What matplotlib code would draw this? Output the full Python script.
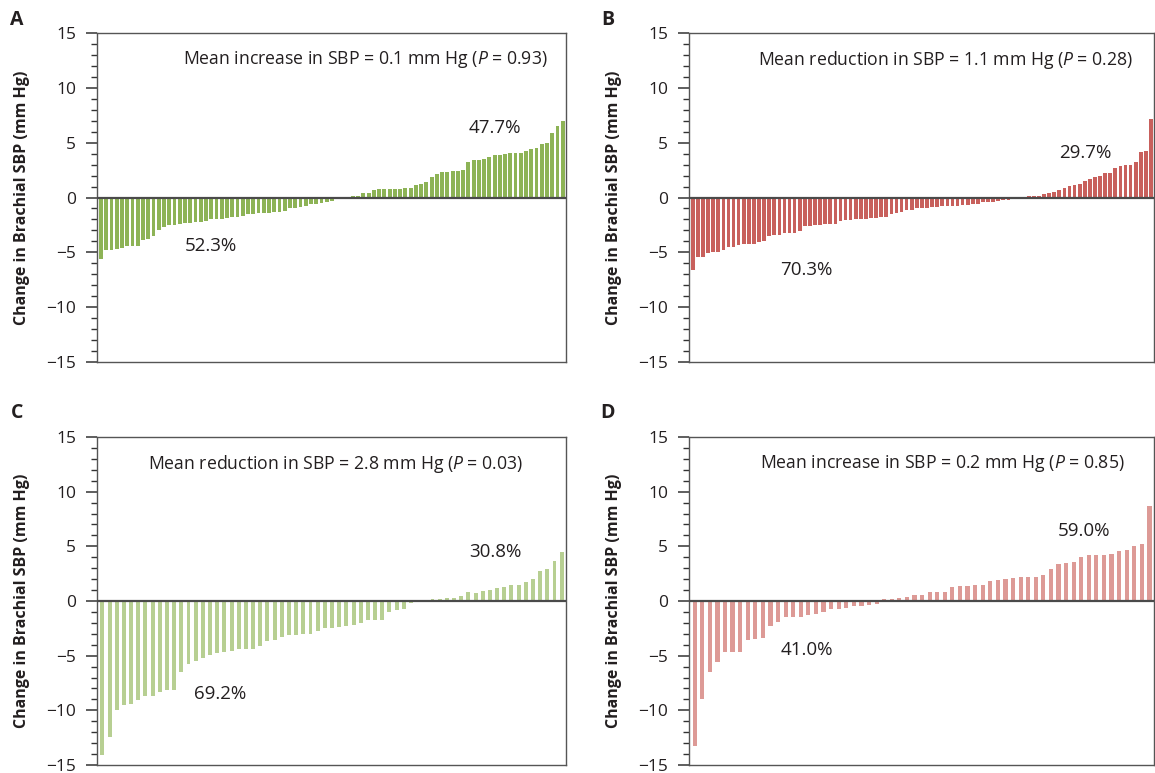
"""
Waterfall plots of change in brachial SBP, four panels (A-D).
"""

import matplotlib
matplotlib.use("Agg")
import matplotlib.pyplot as plt
from matplotlib.ticker import MultipleLocator

plt.rcParams["font.family"] = ["Open Sans", "DejaVu Sans"]
plt.rcParams["mathtext.fontset"] = "custom"
plt.rcParams["mathtext.rm"] = "Open Sans"
plt.rcParams["mathtext.it"] = "Open Sans:italic"

# --- data (mm Hg, sorted per panel) ---
a_values = [-5.6, -4.8, -4.8, -4.7, -4.6, -4.4, -4.4, -4.4, -3.9, -3.8, -3.5, -3.0,
            -2.7, -2.5, -2.5, -2.4, -2.3, -2.3, -2.2, -2.2, -2.1, -2.0, -1.95, -1.95,
            -1.85, -1.8, -1.8, -1.7, -1.5, -1.5, -1.4, -1.4, -1.4, -1.3, -1.3, -1.2,
            -0.95, -0.95, -0.85, -0.75, -0.6, -0.6, -0.5, -0.4, -0.35, -0.1,
            0.0, 0.0,
            0.15, 0.15, 0.4, 0.4, 0.65, 0.75, 0.75, 0.75, 0.8, 0.8, 0.9, 0.9, 1.1,
            1.2, 1.4, 1.9, 2.1, 2.3, 2.3, 2.4, 2.45, 2.55, 3.2, 3.4, 3.4, 3.5, 3.65,
            3.85, 3.85, 4.0, 4.1, 4.1, 4.1, 4.2, 4.4, 4.5, 4.85, 5.0, 5.85, 6.5, 6.95]

b_values = [-6.6, -5.4, -5.4, -5.05, -4.95, -4.95, -4.8, -4.5, -4.5, -4.3, -4.2, -4.2,
            -4.2, -4.05, -3.95, -3.5, -3.4, -3.4, -3.2, -3.2, -3.2, -3.05, -2.6, -2.6,
            -2.5, -2.5, -2.4, -2.4, -2.4, -2.15, -2.05, -2.05, -1.95, -1.95, -1.95,
            -1.85, -1.85, -1.75, -1.75, -1.5, -1.4, -1.3, -1.1, -1.1, -1.0, -0.95,
            -0.95, -0.9, -0.9, -0.8, -0.75, -0.75, -0.75, -0.65, -0.65, -0.55, -0.55,
            -0.45, -0.45, -0.45, -0.35, -0.2, -0.2, -0.1,
            0.0, 0.0,
            0.15, 0.15, 0.15, 0.35, 0.45, 0.5, 0.7, 0.9, 1.05, 1.15, 1.25, 1.5, 1.7,
            1.9, 2.0, 2.25, 2.25, 2.7, 2.9, 3.0, 3.0, 3.25, 4.15, 4.25, 7.15]

c_values = [-14.1, -12.4, -10.0, -9.55, -9.45, -9.1, -8.65, -8.65, -8.35, -8.15, -8.1,
            -6.45, -5.8, -5.45, -5.25, -4.95, -4.8, -4.7, -4.6, -4.35, -4.35, -4.35,
            -4.15, -3.7, -3.6, -3.25, -3.15, -3.15, -3.05, -3.05, -2.75, -2.5, -2.5,
            -2.4, -2.25, -2.15, -2.05, -1.7, -1.7, -1.7, -1.0, -0.85, -0.75, -0.2,
            0.0, 0.0,
            0.15, 0.15, 0.25, 0.25, 0.5, 0.8, 0.7, 0.9, 1.05, 1.15, 1.25, 1.5, 1.5,
            1.7, 2.0, 2.7, 2.9, 3.65, 4.45]

d_values = [-13.3, -8.95, -6.45, -5.55, -4.65, -4.65, -4.65, -3.55, -3.45, -3.35,
            -2.25, -1.9, -1.5, -1.45, -1.45, -1.25, -1.15, -1.0, -0.7, -0.7, -0.6,
            -0.5, -0.5, -0.35, -0.25,
            0.2, 0.2, 0.25, 0.35, 0.55, 0.55, 0.8, 0.8, 0.8, 1.3, 1.35, 1.35, 1.45,
            1.45, 1.85, 1.9, 2.0, 2.1, 2.2, 2.2, 2.2, 2.4, 2.95, 3.4, 3.5, 3.55, 4.0,
            4.2, 4.2, 4.2, 4.3, 4.55, 4.65, 5.05, 5.2, 8.7]

panel_letters = ["A", "B", "C", "D"]
mean_texts = [
    r"Mean increase in SBP = 0.1 mm Hg ($\mathit{P}$ = 0.93)",
    r"Mean reduction in SBP = 1.1 mm Hg ($\mathit{P}$ = 0.28)",
    r"Mean reduction in SBP = 2.8 mm Hg ($\mathit{P}$ = 0.03)",
    r"Mean increase in SBP = 0.2 mm Hg ($\mathit{P}$ = 0.85)",
]
neg_pct = ["52.3%", "70.3%", "69.2%", "41.0%"]
pos_pct = ["47.7%", "29.7%", "30.8%", "59.0%"]
bar_colors = ["#8db356", "#c8605c", "#b7cf92", "#dd9a96"]

all_values = [a_values, b_values, c_values, d_values]

W, H = 1155, 773
fig = plt.figure(figsize=(W / 100, H / 100), dpi=100)

# axes boxes in pixels: left, top, right, bottom
boxes = [(97, 33, 566, 362), (689, 33, 1154, 362),
         (97, 437, 566, 765), (689, 437, 1154, 765)]
bar_widths = [0.72, 0.72, 0.55, 0.55]
mean_x = [0.183, 0.148, 0.109, 0.152]
neg_pos = [(0.243, 0.353), (0.253, 0.28), (0.262, 0.216), (0.253, 0.351)]
pos_pos = [(0.849, 0.711), (0.852, 0.635), (0.849, 0.649), (0.85, 0.713)]

txt_color = "#231f20"

for i, vals in enumerate(all_values):
    l, t, r, b = boxes[i]
    ax = fig.add_axes([l / W, 1 - b / H, (r - l) / W, (b - t) / H])
    n = len(vals)
    ax.bar(range(n), vals, width=bar_widths[i], color=bar_colors[i], zorder=2)
    ax.axhline(0, color="#4a4a4a", lw=1.6, zorder=3)
    ax.set_xlim(-0.75, n - 0.4)
    ax.set_ylim(-15, 15)

    ax.yaxis.set_major_locator(MultipleLocator(5))
    ax.yaxis.set_minor_locator(MultipleLocator(1))
    ax.tick_params(axis="y", which="major", length=8, width=1.1, color="#333333",
                   labelsize=12.5, labelcolor=txt_color, pad=7)
    ax.tick_params(axis="y", which="minor", length=4, width=1.0, color="#333333")
    ax.set_xticks([])
    for sp in ax.spines.values():
        sp.set_color("#555555")
        sp.set_linewidth(1.0)
    ax.set_ylabel("Change in Brachial SBP (mm Hg)", fontsize=11.5, fontweight="bold",
                  color=txt_color, labelpad=12)

    ax.text(mean_x[i], 0.918, mean_texts[i], transform=ax.transAxes, ha="left",
            va="center", fontsize=12.7, color=txt_color)
    ax.text(*neg_pos[i], neg_pct[i], transform=ax.transAxes, ha="center",
            va="center", fontsize=13.5, color=txt_color)
    ax.text(*pos_pos[i], pos_pct[i], transform=ax.transAxes, ha="center",
            va="center", fontsize=13.5, color=txt_color)

    fig.text((17 if i % 2 == 0 else 608) / W, 1 - (20 if i < 2 else 413) / H,
             panel_letters[i], fontsize=14, fontweight="bold", color=txt_color,
             ha="center", va="center")

fig.savefig("out.png", dpi=100)
